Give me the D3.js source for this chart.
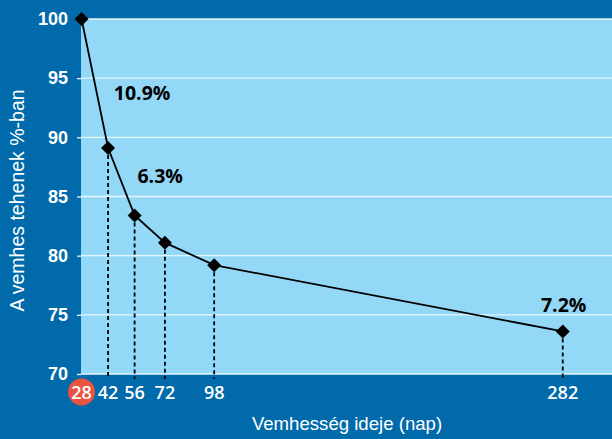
<!DOCTYPE html>
<html>
<head>
<meta charset="utf-8">
<script src="https://cdn.jsdelivr.net/npm/d3@7"></script>
<style>
  body { margin: 0; background: #006aab; }
  svg { display: block; font-family: "Open Sans", "DejaVu Sans", sans-serif; }
</style>
</head>
<body>
<svg id="chart" width="612" height="439"></svg>
<script>
const days = [28, 42, 56, 72, 98, 282];
const pregnant = [100, 89.1, 83.4, 81.1, 79.2, 73.6];
const yTicks = [70, 75, 80, 85, 90, 95, 100];
const notes = [
    { text: "10.9%", day: 45, value: 93.15 },
    { text: "6.3%", day: 57.5, value: 86.15 },
    { text: "7.2%", day: 270.5, value: 75.2 }
];

const margin = { left: 81, top: 19, right: 0, bottom: 65 };
const width = 612 - margin.left - margin.right;
const height = 439 - margin.top - margin.bottom;

const svg = d3.select("#chart");

svg.append("rect")
    .attr("width", 612)
    .attr("height", 439)
    .attr("fill", "#006aab");

const chart = svg.append("g")
    .attr("transform", `translate(${margin.left}, ${margin.top})`);

const xScale = d3.scaleLinear().domain([27.7, 308]).range([0, width]);
const yScale = d3.scaleLinear().domain([70, 100]).range([height, 0]);

chart.append("rect")
    .attr("width", width)
    .attr("height", height)
    .attr("fill", "#93d8f6");

// grid + y ticks
const yAxis = chart.append("g")
    .call(d3.axisLeft(yScale).tickValues(yTicks).tickSize(4).tickPadding(9));
yAxis.select(".domain").remove();
yAxis.selectAll("line").attr("stroke", "#e6f6fd").attr("stroke-width", 1.3);
yAxis.selectAll("text")
    .attr("fill", "white")
    .attr("font-size", 18)
    .attr("font-weight", 600);

chart.append("g")
    .selectAll("line")
    .data(yTicks)
    .join("line")
    .attr("x1", 0)
    .attr("x2", width)
    .attr("y1", d => yScale(d))
    .attr("y2", d => yScale(d))
    .attr("stroke", "#e6f6fd")
    .attr("stroke-width", 1.3);

const points = days.map((d, i) => ({ day: d, value: pregnant[i] }));

// dashed drop lines
chart.append("g")
    .selectAll("line")
    .data(points.slice(1))
    .join("line")
    .attr("x1", d => xScale(d.day))
    .attr("x2", d => xScale(d.day))
    .attr("y1", d => yScale(d.value))
    .attr("y2", height + 5)
    .attr("stroke", "black")
    .attr("stroke-width", 1.8)
    .attr("stroke-dasharray", "4,3");

// line
chart.append("path")
    .datum(points)
    .attr("fill", "none")
    .attr("stroke", "black")
    .attr("stroke-width", 1.8)
    .attr("d", d3.line().x(d => xScale(d.day)).y(d => yScale(d.value)));

// markers
chart.append("g")
    .selectAll("path")
    .data(points)
    .join("path")
    .attr("transform", d => `translate(${xScale(d.day)}, ${yScale(d.value)})`)
    .attr("d", "M0,-7L7,0L0,7L-7,0Z")
    .attr("fill", "black");

// x tick labels
chart.append("circle")
    .attr("cx", xScale(28))
    .attr("cy", height + 18)
    .attr("r", 13.5)
    .attr("fill", "#ea5440");

chart.append("g")
    .selectAll("text")
    .data(days)
    .join("text")
    .attr("x", d => xScale(d))
    .attr("y", height + 24.5)
    .attr("text-anchor", "middle")
    .attr("fill", "white")
    .attr("font-size", 18)
    .attr("font-weight", 600)
    .text(d => d);

// percentage notes
chart.append("g")
    .selectAll("text")
    .data(notes)
    .join("text")
    .attr("x", d => xScale(d.day))
    .attr("y", d => yScale(d.value))
    .attr("fill", "black")
    .attr("font-size", 19.5)
    .attr("font-weight", "bold")
    .text(d => d.text);

// axis titles
svg.append("text")
    .attr("transform", `translate(24, ${margin.top + height / 2 + 4}) rotate(-90)`)
    .attr("text-anchor", "middle")
    .attr("fill", "white")
    .attr("font-family", "Liberation Sans, Arial, sans-serif")
    .attr("font-size", 19.5)
    .text("A vemhes tehenek %-ban");

svg.append("text")
    .attr("x", 347)
    .attr("y", 430)
    .attr("text-anchor", "middle")
    .attr("fill", "white")
    .attr("font-family", "Liberation Sans, Arial, sans-serif")
    .attr("font-size", 18.6)
    .text("Vemhesség ideje (nap)");
</script>
</body>
</html>
